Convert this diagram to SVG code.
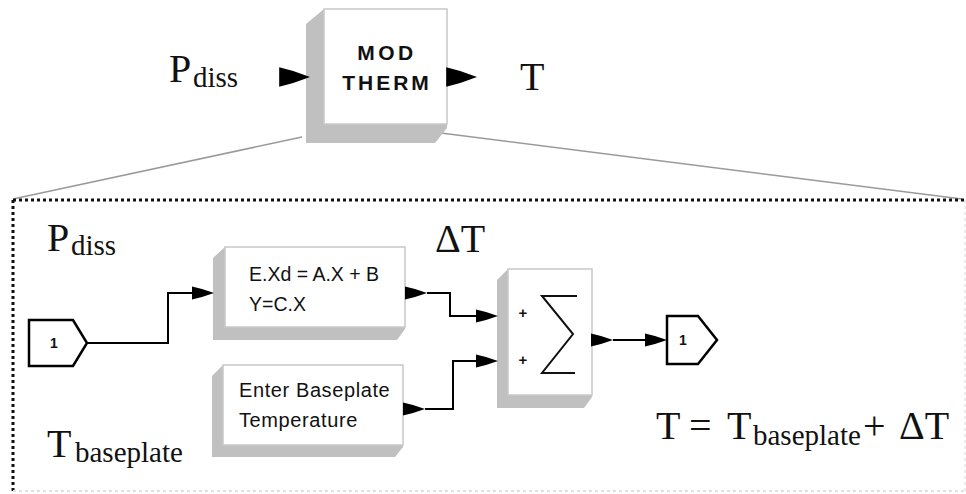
<svg xmlns="http://www.w3.org/2000/svg" xmlns:xlink="http://www.w3.org/1999/xlink" width="966" height="494" viewBox="0 0 966 494">
<style>
.face{fill:#fff;stroke:#c8c8c8;stroke-width:1.5}
.shadow{fill:#c0c0c0;stroke:none}
.wire{fill:none;stroke:#000;stroke-width:2}
.port{fill:#fff;stroke:#000;stroke-width:2.5;stroke-linejoin:miter}
.zoomline{stroke:#9a9a9a;stroke-width:1.5;fill:none}
.serif{font-family:"Liberation Serif","Times New Roman",serif;fill:#111}
.sans{font-family:"Liberation Sans",Arial,sans-serif;fill:#111}
</style>
<defs>
<path id="ah" d="M0,0 L-12,-4 L-22,-6.5 L-22,6.5 L-12,4 Z" fill="#000"/>
</defs>
<rect width="966" height="494" fill="#fff"/>

<g id="frame">
<line class="zoomline" x1="302" y1="137" x2="13" y2="199"/>
<line class="zoomline" x1="433" y1="132" x2="962" y2="199"/>
<line x1="13" y1="200" x2="966" y2="200" stroke="#111" stroke-width="3" stroke-dasharray="3 3"/>
<line x1="13" y1="200" x2="13" y2="494" stroke="#111" stroke-width="3" stroke-dasharray="3 3"/>
<line x1="13" y1="491" x2="966" y2="491" stroke="#e0e0e0" stroke-width="2" stroke-dasharray="3 3"/>
<line x1="965" y1="200" x2="965" y2="491" stroke="#ececec" stroke-width="2" stroke-dasharray="3 3"/>
</g>

<g id="modtherm">
<polygon class="shadow" points="324,9 306,24 306,143 435,143 447,128 447,9"/>
<rect class="face" x="324" y="9" width="123" height="115"/>
<text class="sans" x="387" y="60" font-size="21" font-weight="bold" letter-spacing="3.5" text-anchor="middle">MOD</text>
<text class="sans" x="387" y="90" font-size="21" font-weight="bold" letter-spacing="3" text-anchor="middle">THERM</text>
</g>

<g id="top-labels">
<text class="serif" x="169" y="82" font-size="40">P</text>
<text class="serif" x="193" y="87" font-size="29">diss</text>
<text class="serif" x="520" y="90" font-size="40">T</text>
</g>

<g id="inport">
<polygon class="port" points="29,320 73,320 87,343 73,366 29,366"/>
<text class="sans" x="54" y="348" font-size="14" font-weight="bold" text-anchor="middle">1</text>
</g>

<g id="statespace">
<polygon class="shadow" points="225,247 213,258 213,340 397,340 405,329 405,247"/>
<rect class="face" x="225" y="247" width="180" height="80"/>
<text class="sans" x="249" y="281" font-size="19.5">E.Xd = A.X + B</text>
<text class="sans" x="249" y="311" font-size="19.5">Y=C.X</text>
</g>

<g id="baseplate">
<polygon class="shadow" points="223,365 212,376 212,457 395,457 403,447 403,365"/>
<rect class="face" x="223" y="365" width="180" height="80"/>
<text class="sans" x="239" y="397" font-size="20" letter-spacing="0.6">Enter Baseplate</text>
<text class="sans" x="239" y="427" font-size="20" letter-spacing="0.6">Temperature</text>
</g>

<g id="sum">
<polygon class="shadow" points="508,269 497,280 497,408 584,408 592,397 592,269"/>
<rect class="face" x="508" y="269" width="84" height="126"/>
<text class="sans" x="523" y="318" font-size="15" font-weight="bold" text-anchor="middle">+</text>
<text class="sans" x="523" y="365" font-size="15" font-weight="bold" text-anchor="middle">+</text>
<path d="M577,296 H542 L573,334 L542,373 H575" fill="none" stroke="#111" stroke-width="2"/>
</g>

<g id="outport">
<polygon class="port" points="667,316 698,316 717,340 698,364 667,364"/>
<text class="sans" x="683" y="345" font-size="14" font-weight="bold" text-anchor="middle">1</text>
</g>

<g id="connectors">
<path class="wire" d="M87,343 H168 V293 H200"/>
<use xlink:href="#ah" transform="translate(214,293)"/>
<use xlink:href="#ah" transform="translate(427,293)"/>
<path class="wire" d="M427,293 H450 V316 H485"/>
<use xlink:href="#ah" transform="translate(498,316)"/>
<use xlink:href="#ah" transform="translate(425,409)"/>
<path class="wire" d="M425,409 H453 V361 H485"/>
<use xlink:href="#ah" transform="translate(498,361)"/>
<use xlink:href="#ah" transform="translate(613,340)"/>
<path class="wire" d="M613,340 H655"/>
<use xlink:href="#ah" transform="translate(667,340)"/>
<use xlink:href="#ah" transform="translate(310,77) scale(1.4,1.5)"/>
<use xlink:href="#ah" transform="translate(477,77) scale(1.4,1.5)"/>
</g>

<g id="inner-labels">
<text class="serif" x="47" y="251" font-size="40">P</text>
<text class="serif" x="71" y="255" font-size="29">diss</text>
<text class="serif" x="435" y="252" font-size="40">ΔT</text>
<text class="serif" x="47" y="457" font-size="40">T</text>
<text class="serif" x="75" y="462" font-size="29">baseplate</text>
<text class="serif" x="656" y="439" font-size="40">T</text>
<text class="serif" x="689" y="439" font-size="40">=</text>
<text class="serif" x="727" y="439" font-size="40">T</text>
<text class="serif" x="753" y="445" font-size="29">baseplate</text>
<text class="serif" x="863" y="439" font-size="40">+</text>
<text class="serif" x="899" y="439" font-size="40">ΔT</text>
</g>
</svg>
